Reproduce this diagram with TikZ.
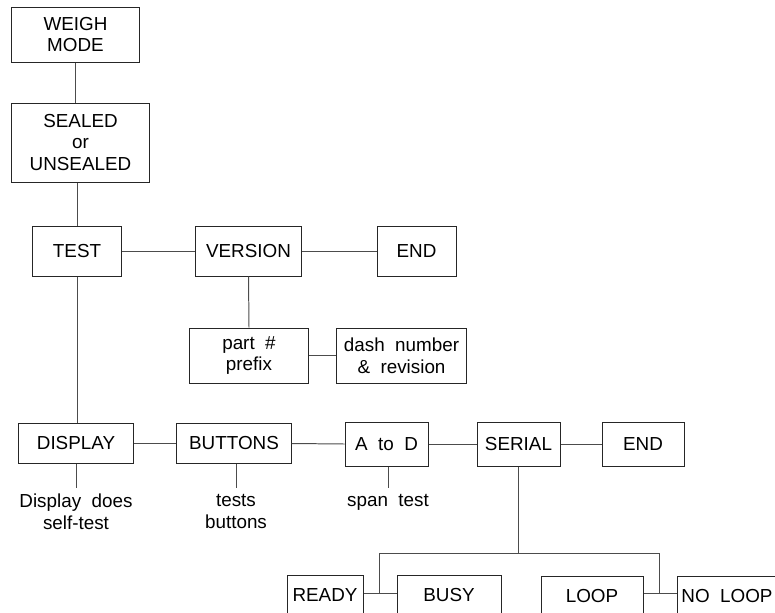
\documentclass[tikz,border=0pt]{standalone}
\usepackage{fontspec}
\setmainfont{Liberation Sans}
\usepackage{tikz}

\tikzset{
  menubox/.style={draw=black!85, line width=0.7pt, inner sep=0pt, align=center,
    font=\fontsize{13.4}{15.4}\selectfont},
  note/.style={inner xsep=0pt, inner ysep=0.15cm, anchor=north, align=center,
    font=\fontsize{13.4}{15.4}\selectfont},
  link/.style={draw=black!70, line width=0.7pt}
}

\begin{document}
\begin{tikzpicture}[x=0.025cm, y=-0.025cm]
            \useasboundingbox (0,0) rectangle (775,612);
            \clip (0,0) rectangle (775,612);

            % Top of the menu
            \node[menubox, minimum width=3.175cm, minimum height=1.375cm] (weigh) at (75.5,34.5) {WEIGH\\MODE};
            \node[menubox, minimum width=3.425cm, minimum height=1.975cm] (sealed) at (80.5,142.5) {SEALED\\or\\UNSEALED};

            % Test row
            \node[menubox, minimum width=2.2cm, minimum height=1.25cm] (test) at (77,251) {TEST};
            \node[menubox, minimum width=2.625cm, minimum height=1.25cm] (version) at (248.5,251) {VERSION};
            \node[menubox, minimum width=1.975cm, minimum height=1.25cm] (endA) at (416.5,251) {END};
            \node[menubox, minimum width=2.95cm, minimum height=1.375cm] (part) at (249,355.5) {part\ \ \#\\prefix};
            \node[menubox, minimum width=3.225cm, minimum height=1.375cm] (dash) at (401.5,355.5) {dash\ \ number\\\&\ \ revision};

            % Self-test row
            \node[menubox, minimum width=2.85cm, minimum height=1.0cm] (display) at (76,443.5) {DISPLAY};
            \node[menubox, minimum width=2.85cm, minimum height=1.0cm] (buttons) at (234,443.5) {BUTTONS};
            \node[menubox, minimum width=2.075cm, minimum height=1.1cm] (atod) at (386.5,444) {A\ \ to\ \ D};
            \node[menubox, minimum width=2.075cm, minimum height=1.1cm] (serial) at (518.5,444) {SERIAL};
            \node[menubox, minimum width=2.05cm, minimum height=1.1cm] (endB) at (643,444) {END};

            \node[note] (dispnote) at (76,488) {Display\ \ does\\self-test};
            \node[note] (butnote) at (236,488) {tests\\buttons};
            \node[note] (atodnote) at (388,488) {span\ \ test};

            % Serial options
            \node[menubox, minimum width=1.9cm, minimum height=1.0cm] (ready) at (325,595) {READY};
            \node[menubox, minimum width=2.6cm, minimum height=1.0cm] (busy) at (449,595) {BUSY};
            \node[menubox, minimum width=2.55cm, minimum height=1.0cm] (loop) at (592,596) {LOOP};
            \node[menubox, minimum width=2.5cm, minimum height=1.0cm] (noloop) at (727,596) {NO\ \ LOOP};

            \coordinate (split) at (518.5,553);
            \coordinate (leftarm) at (379,553);
            \coordinate (rightarm) at (659,553);

            % Connectors
            \draw[link] (weigh.south) -- (weigh.south |- sealed.north);
            \draw[link] (test.north |- sealed.south) -- (test.north);
            \draw[link] (test.east) -- (version.west);
            \draw[link] (version.east) -- (endA.west);
            \draw[link] (version.south) -- (part.north);
            \draw[link] (part.east) -- (dash.west);
            \draw[link] (test.south) -- (test.south |- display.north);
            \draw[link] (display.east) -- (buttons.west);
            \draw[link] (buttons.east) -- (atod.west);
            \draw[link] (atod.east) -- (serial.west);
            \draw[link] (serial.east) -- (endB.west);
            \draw[link] (display.south) -- (dispnote.north);
            \draw[link] (butnote.north |- buttons.south) -- (butnote.north);
            \draw[link] (atodnote.north |- atod.south) -- (atodnote.north);
            \draw[link] (serial.south) -- (split);
            \draw[link] (leftarm) -- (rightarm);
            \draw[link] (leftarm) -- (leftarm |- 0,593);
            \draw[link] (ready.east |- 0,593) -- (busy.west |- 0,593);
            \draw[link] (rightarm) -- (rightarm |- 0,593);
            \draw[link] (loop.east |- 0,593) -- (noloop.west |- 0,593);
        \end{tikzpicture}
\end{document}
